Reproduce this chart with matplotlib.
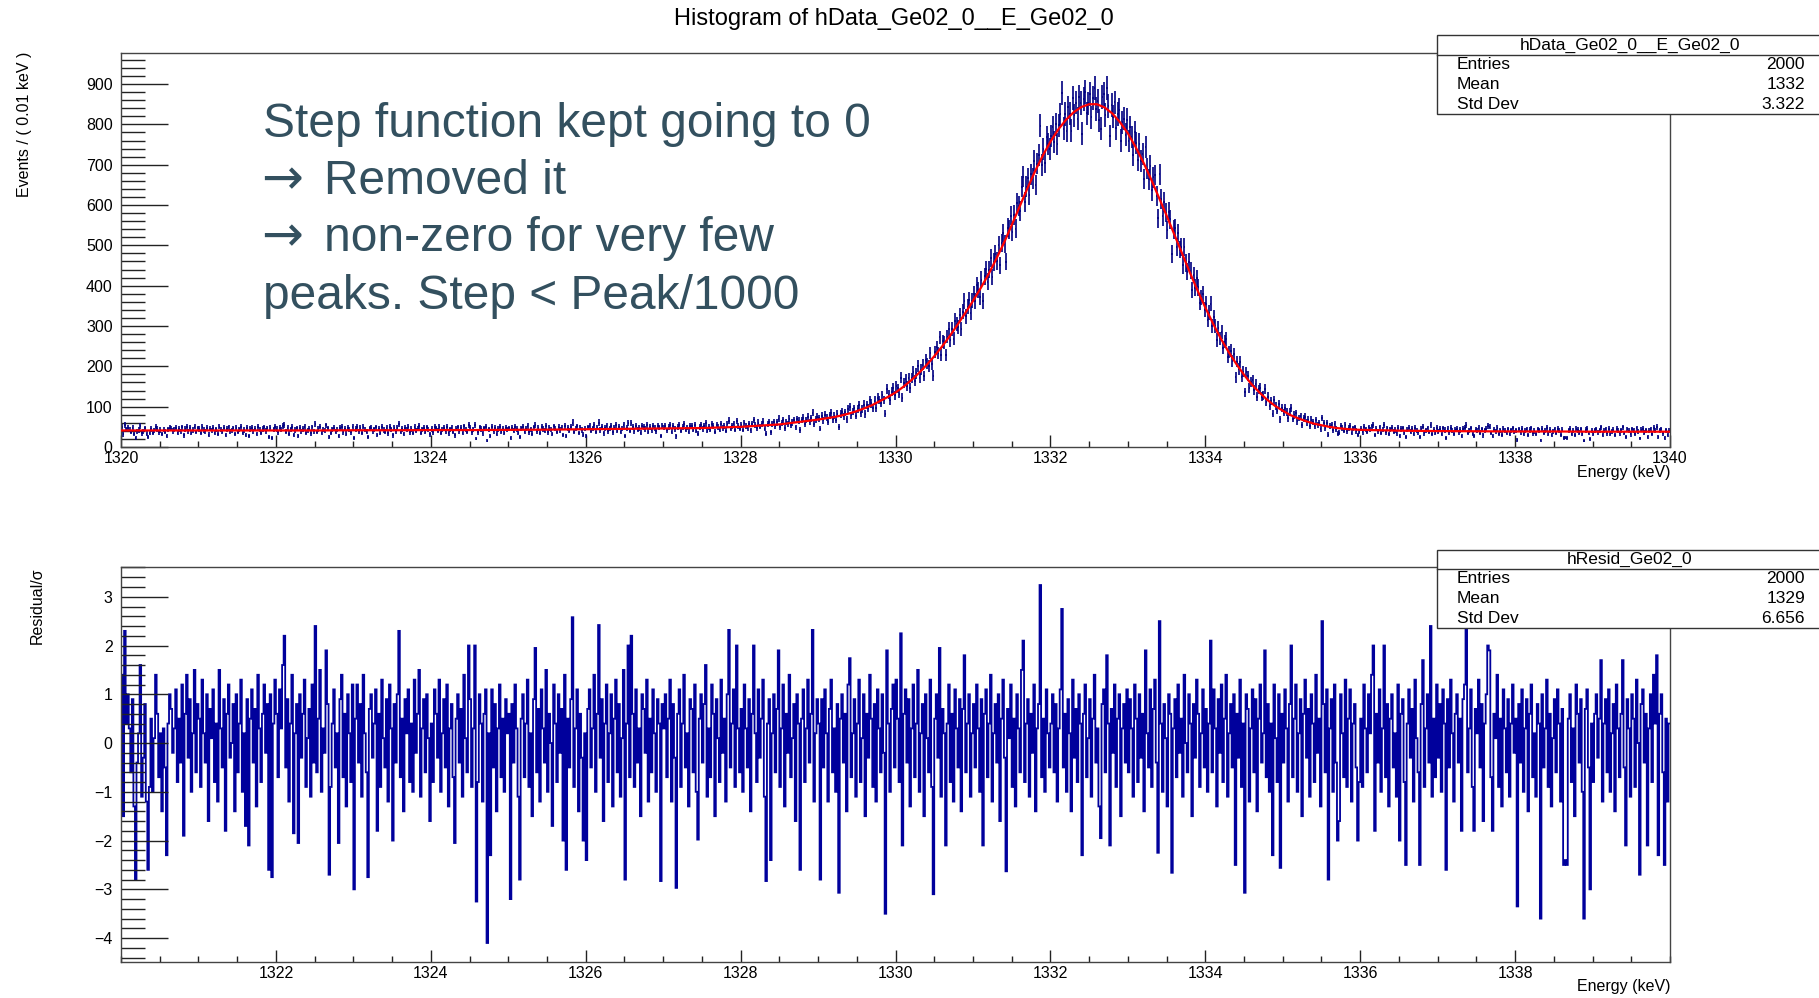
import numpy as np
import matplotlib
matplotlib.use("Agg")
import matplotlib.pyplot as plt
from matplotlib.patches import Rectangle
from matplotlib.lines import Line2D
from matplotlib.ticker import MultipleLocator, FixedLocator

plt.rcParams["font.family"] = ["Liberation Sans", "DejaVu Sans"]

W, H = 1819, 998

# red fit curve (events / 0.01 keV)
fit_x_tail_lo = np.arange(1320.0, 1328.51, 0.5)
fit_y_tail_lo = [41, 41, 41, 41, 41, 41, 41.5, 41.5, 42, 42, 42.5, 43, 44, 45, 46, 47, 50, 56]
fit_x_peak = np.round(np.arange(1329.0, 1336.01, 0.1), 1)
fit_y_peak = [
    68, 71, 74, 78, 83, 89, 96, 104, 114, 124,            # 1329.x
    135, 149, 165, 183, 203, 225, 249, 275, 303, 332,     # 1330.x
    362, 394, 428, 466, 506, 550, 595, 640, 683, 722,     # 1331.x
    757, 787, 811, 830, 843, 850, 850, 842, 827, 805,     # 1332.x
    778, 744, 706, 664, 619, 574, 527, 480, 433, 388,     # 1333.x
    346, 306, 269, 236, 206, 179, 155, 135, 117, 102,     # 1334.x
    90, 79, 71, 64, 58, 54, 50, 47, 45, 43.5,             # 1335.x
    42.5,                                                 # 1336.0
]
fit_x_tail_hi = np.arange(1336.5, 1340.01, 0.5)
fit_y_tail_hi = [40.5, 39.5, 39, 38.5, 38.5, 38, 38, 38]

pull_rows = [
    [1.4, -1.5, 2.3, 0.4, 1.0, 0.3, -0.6, 0.9, -1.3, -2.8,
     -0.4, 0.2, 1.6, -1.1, -0.3, 0.8, -1.2, -2.6, -0.9, 0.5,
     -1.0, 0.1, 1.4, 0.6, -0.7, 0.2, -1.4, 0.3, -0.5, -2.3,
     0.4, 1.0, 0.7, -0.2, 0.3, 1.1, -0.8, 0.5, -0.4, 1.2,
     -1.9, 0.6, 1.4, -0.3, 0.9, -1.0, 0.2, 1.5, -0.6, 0.8],
    [0.5, -0.9, 1.3, 0.2, -0.4, 1.0, -1.6, 0.7, 0.1, 1.1,
     -0.8, 0.4, -1.2, 1.5, 0.3, -0.5, 0.9, -1.8, 0.6, 1.2,
     -0.3, 0.0, 0.8, -1.4, 1.0, -0.6, 0.4, 1.3, -1.0, 0.2,
     -1.7, 0.9, -2.1, 0.5, 1.1, -0.4, 0.7, -1.3, 1.4, 0.3,
     -0.8, 0.6, 1.2, -0.2, 0.8, -2.6, 1.0, -2.75, 0.4, 1.3],
    [0.6, -0.7, 1.1, 0.3, 1.6, 2.2, -0.5, 0.9, -1.2, 0.4,
     1.4, -1.85, 0.2, 0.8, -2.05, 1.0, -0.3, 0.6, 1.3, -0.9,
     0.1, 0.7, -1.1, 1.2, -0.4, 2.4, -0.6, 0.5, 1.5, -1.0,
     0.3, -0.2, 1.9, 0.8, -2.7, -0.9, 0.4, 1.1, -0.5, 0.2,
     -2.05, 0.9, 1.4, -0.7, 0.6, -1.3, 1.0, 0.2, -0.8, 1.2],
    [-3.0, 0.5, 1.2, -0.4, 0.8, -1.1, 1.4, 0.2, -0.6, -2.75,
     0.7, 1.0, -0.3, 0.4, 1.1, -1.8, 0.6, -0.9, 1.3, 0.1,
     -0.5, 0.9, -1.2, 1.2, 0.3, -2.0, 0.8, -0.4, 1.0, 2.3,
     -0.7, 0.5, -1.4, 0.9, 0.2, 1.1, -0.8, 0.4, -1.0, 1.3,
     -0.2, 0.6, 1.5, -1.1, 0.3, 0.9, -0.6, 1.0, 0.1, -1.6],
    [0.4, -0.8, 1.1, 0.6, -0.3, 1.3, -1.0, 0.2, 0.9, -0.5,
     1.2, -1.3, 0.3, 0.8, -0.7, -2.05, 0.5, 1.0, -0.4, 0.7,
     -1.1, 1.4, 0.1, -0.6, 2.0, 0.9, -0.9, 0.3, 2.0, -3.25,
     -0.8, 1.0, 0.4, -1.2, 0.6, 1.1, -4.1, 0.2, -2.3, 1.1,
     -0.5, 0.8, -1.4, 0.3, 1.2, -0.7, 0.5, -1.0, 0.9, 0.2],
    [0.6, -3.2, 0.8, -0.4, 1.2, 0.3, -1.1, -2.8, 0.5, 1.0,
     -0.7, 0.4, 1.3, -0.9, 0.2, -1.5, 0.9, 1.95, -0.6, 0.7,
     -1.2, 1.1, 0.3, -0.4, 1.5, -1.0, 0.6, 0.0, -1.7, 1.2,
     0.4, -0.8, 1.0, -0.2, 0.7, -2.0, 1.4, -2.6, 0.5, -0.5,
     0.9, 2.58, -0.9, 0.3, 1.1, -1.4, 0.6, -0.3, -2.0, 0.2],
    [-2.4, 0.7, 1.1, -0.5, 0.3, 1.4, -1.0, 0.6, 2.42, -0.3,
     0.9, -1.6, 0.4, 1.2, -0.8, 0.2, 1.0, -1.3, 0.5, 1.3,
     -0.6, 0.8, -1.1, 0.1, 1.5, -2.8, 0.4, 2.0, -0.7, 2.2,
     0.6, -0.9, 1.1, -0.4, 0.3, -1.5, 1.0, 0.7, -0.2, 1.3,
     -1.2, 0.5, -0.6, 1.1, 0.2, -1.0, 0.9, 0.4, -2.83, 0.8],
    [0.3, 1.0, -0.7, 0.5, 1.3, -1.2, 0.8, -0.3, -2.97, 0.6,
     1.1, -0.9, 0.4, 1.4, -0.5, 0.2, -1.3, 0.9, 0.7, -0.6,
     1.2, -1.0, -1.98, 0.5, 1.0, -0.4, 0.8, 1.6, -1.1, 0.3,
     -0.7, 1.2, 0.6, -1.5, 0.9, 0.1, -0.8, 1.3, -0.2, 0.5,
     -1.2, 1.0, 2.32, -0.5, 0.4, 1.1, -0.9, 2.0, 0.3, -0.6],
    [0.7, -1.0, 1.2, 0.3, -0.5, 0.9, -1.4, 0.6, 2.0, 0.2,
     -0.8, 1.1, -0.3, 0.5, 1.3, -1.1, -2.83, 0.4, 0.9, -2.4,
     0.2, 1.0, -0.6, 0.7, 1.9, -0.9, 0.3, 1.2, -1.3, 0.6,
     -0.2, 1.4, -0.7, 0.1, 0.8, -1.6, 1.0, 0.4, -2.6, 0.5,
     1.1, -0.8, 0.3, 1.3, -0.4, 0.6, 2.32, -1.2, 0.2, 0.9],
    [0.4, -2.8, 0.9, -0.5, 1.1, 0.2, -1.2, 0.7, 1.3, -0.6,
     0.3, -1.0, 0.8, -3.07, 0.5, 1.0, -0.4, 0.6, -1.4, 1.2,
     1.74, -0.7, 0.2, 0.9, -1.1, 0.4, 1.3, -0.8, 0.1, 1.0,
     -1.5, 0.6, -0.3, 1.4, 0.5, -0.9, 0.8, -1.2, 1.1, 0.3,
     -0.6, 1.0, -0.2, -3.5, 1.9, 0.4, -1.0, 0.7, 1.2, -0.5],
    [1.3, 0.5, -0.8, 2.25, -2.1, 0.6, 1.1, -0.4, 0.9, -1.3,
     0.3, 1.2, -0.7, 0.4, 1.5, -1.0, 0.2, 0.8, -1.5, 1.0,
     0.1, -0.6, 1.3, -0.9, -3.1, 0.5, 1.0, -0.3, 1.95, -1.1,
     0.7, 0.2, -2.1, 0.4, 1.2, -0.8, 0.6, -1.2, 1.1, 0.3,
     -0.5, 0.9, -1.4, 0.7, 1.8, -0.6, 0.4, 1.0, -1.1, 0.2],
    [0.8, -0.5, 1.2, 0.3, -1.0, 0.9, -2.1, 0.6, 1.1, -0.7,
     0.4, 1.4, -1.2, 0.2, 0.8, -0.4, 1.0, -1.6, 0.5, 1.3,
     -0.3, -2.63, 0.7, 0.1, 1.2, -0.9, 0.5, -1.3, 1.0, 0.3,
     -0.6, 1.5, 2.1, -0.8, 0.4, 0.9, -1.1, 0.6, -0.2, 1.2,
     -1.4, 0.3, 0.8, 3.24, -0.7, 0.5, -1.0, 1.1, 0.2, -0.5],
    [0.4, 1.0, -0.6, 0.8, -1.2, 0.3, 1.1, 2.75, -0.5, 0.6,
     -1.0, 0.9, 0.2, -1.4, 1.3, -0.3, 0.7, -0.8, 1.0, 0.4,
     -2.3, 0.6, 1.2, -0.7, 0.1, 0.9, -1.1, 0.5, 1.4, -0.4,
     0.3, -1.3, -1.95, 0.8, 1.1, -0.6, 1.8, 0.4, -2.1, 0.7,
     -0.2, 1.2, -0.9, 0.5, 1.0, -1.5, 0.3, 0.8, -0.4, 1.1],
    [-0.6, 0.9, 0.3, -1.1, 1.2, 0.5, -0.8, 1.0, -0.3, 0.6,
     -1.4, 1.9, 0.2, -0.5, 1.1, -0.9, 0.7, 1.3, -0.4, -2.25,
     2.5, 0.4, -1.0, 0.8, 0.1, -1.3, 1.0, 0.6, -2.66, 0.3,
     0.9, -0.7, 1.2, -0.2, 0.5, -1.1, 1.4, 0.0, -0.6, 1.0,
     0.4, -1.5, 0.8, -0.3, 1.3, 0.6, -0.9, 0.2, 1.1, -0.5],
    [0.7, -1.0, 0.4, 2.1, -0.6, 1.1, 0.3, -1.3, 0.9, -0.2,
     1.2, -0.8, 0.5, 1.4, -1.1, 0.2, 0.8, -0.5, 1.0, -2.5,
     0.6, -0.3, 1.3, -0.9, 0.4, -3.07, 1.0, 0.7, -1.2, 0.3,
     1.1, -0.6, 0.9, -1.4, 0.5, 1.2, -0.4, 0.2, 1.9, -0.7,
     0.8, -1.0, 0.4, -2.3, 1.2, 0.1, -0.8, 1.0, -2.56, 0.6],
    [-0.4, 1.1, 0.3, -1.2, 0.8, 2.0, -0.7, 0.5, 1.2, -1.0,
     0.2, 0.9, -1.5, 0.6, 1.3, -0.3, 0.7, -1.1, 1.0, 0.4,
     -0.8, 1.4, -0.2, 0.5, -1.3, 2.5, 0.8, -0.6, 1.1, -2.8,
     0.3, 0.9, -1.0, 1.2, -0.4, -2.0, -1.6, 1.0, 0.2, -0.7,
     1.3, -0.9, 0.5, 1.1, -1.2, 0.4, 0.8, -0.5, -2.0, -0.8],
    [0.5, -0.9, 1.2, 0.3, -0.6, 1.0, 0.2, 1.4, 2.0, -1.8,
     0.6, -0.4, 1.1, -1.0, 0.3, 2.0, -0.7, 0.8, -1.3, 0.5,
     1.0, -0.5, 0.2, -1.1, 1.2, -2.0, 0.6, 0.9, -0.8, -2.5,
     0.4, 1.1, -0.3, 0.7, -1.2, 1.3, 0.1, -0.6, -2.5, 0.8,
     1.7, -0.9, 0.3, 1.0, -0.4, 2.4, -1.1, 0.5, -0.7, 1.2],
    [-0.3, 0.8, -1.0, 1.1, 0.4, -2.6, 0.9, -0.5, 1.3, 0.2,
     -1.2, 0.6, 1.0, -0.4, 0.5, -1.8, 0.9, 1.2, 2.5, -0.6,
     0.3, 1.1, -0.9, -1.8, 0.7, 0.2, 1.3, -0.5, 0.8, -1.6,
     0.4, 1.0, 2.0, 1.9, -0.7, -1.8, 0.6, 0.1, 1.4, -0.9,
     0.5, -1.3, 1.1, 0.3, -0.6, 0.9, -1.1, 0.4, 1.2, -0.2],
    [0.5, -3.35, 0.8, -0.4, 1.1, -1.0, 0.3, 0.9, -1.4, 0.6,
     1.2, -0.7, 0.2, -1.1, 0.8, 0.4, -3.6, 1.0, -0.5, 0.3,
     1.3, -0.9, 0.6, -1.3, 0.1, 0.9, -0.6, 1.1, 0.4, -1.2,
     0.7, -2.5, -2.4, -2.5, 0.5, 1.0, -0.8, 0.3, -1.5, 1.2,
     0.6, -0.4, 0.9, -1.0, -3.6, 0.7, 1.1, -0.5, -3.0, 0.4],
    [-0.8, 0.6, 1.0, -0.3, 0.5, 1.7, -1.2, 0.4, 0.9, -0.6,
     1.1, -1.0, 0.2, 0.8, -1.4, 1.2, 0.3, -0.7, 0.6, 1.7,
     -0.5, -2.1, 0.9, 0.3, -1.1, 1.0, 0.5, -0.9, 1.3, 0.0,
     -2.7, 0.8, 1.1, -0.4, 0.6, -2.1, 0.3, 1.0, -0.8, 1.4,
     0.4, 1.8, -2.3, 0.6, 1.0, -0.6, -2.5, 0.5, -1.2, 0.4],
]
E_FIRST = 1320.0

stats_data = [("Entries", "2000"), ("Mean", "1332"), ("Std Dev", "3.322")]
stats_resid = [("Entries", "2000"), ("Mean", "1329"), ("Std Dev", "6.656")]

note_lines = [
    (None, "Step function kept going to 0"),
    ("\u2192", "Removed it"),
    ("\u2192", "non-zero for very few"),
    (None, "peaks. Step < Peak/1000"),
]

DATA_COL = "#000080"
RES_COL = "#00009c"
NOTE_COL = "#33505f"

fit_x = np.concatenate([fit_x_tail_lo, fit_x_peak, fit_x_tail_hi])
fit_y = np.array(fit_y_tail_lo + fit_y_peak + fit_y_tail_hi, dtype=float)

# each row spans exactly one keV
pulls = np.concatenate([np.array(r, dtype=float) for r in pull_rows])
edges = [np.array([E_FIRST])]
for k, r in enumerate(pull_rows):
    edges.append(np.linspace(E_FIRST + k, E_FIRST + k + 1, len(r) + 1)[1:])
edges = np.concatenate(edges)
centers = 0.5 * (edges[:-1] + edges[1:])
half_w = 0.5 * np.diff(edges)
fit_at_bins = np.interp(centers, fit_x, fit_y)
data = fit_at_bins + pulls * np.sqrt(fit_at_bins)


def fx(px):
    return px / W


def fy(py):
    return 1 - py / H


def style_axis(ax, ymaj, ymin):
    ax.xaxis.set_major_locator(MultipleLocator(2))
    ax.xaxis.set_minor_locator(MultipleLocator(0.5))
    ax.yaxis.set_major_locator(MultipleLocator(ymaj))
    ax.yaxis.set_minor_locator(MultipleLocator(ymin))
    ax.tick_params(direction="in", which="both", width=1.0, color="#222222",
                   labelsize=11.5, top=False, right=False)
    ax.tick_params(axis="y", which="major", length=34, pad=6)
    ax.tick_params(axis="y", which="minor", length=17)
    ax.tick_params(axis="x", which="major", length=8.6, pad=3)
    ax.tick_params(axis="x", which="minor", length=4.3)
    for s in ax.spines.values():
        s.set_color("#444444")
        s.set_linewidth(1.0)


def stats_box(fig, top, sep, bot, name, rows):
    left = fx(1437)
    rect = Rectangle((left, fy(bot)), 0.25, fy(top) - fy(bot), transform=fig.transFigure,
                     facecolor="white", edgecolor="#333333", lw=1.0, zorder=10)
    fig.add_artist(rect)
    fig.add_artist(Line2D([left, 1.0], [fy(sep), fy(sep)], transform=fig.transFigure,
                          color="#333333", lw=1.0, zorder=11))
    fig.text(fx(1630), fy((top + sep) / 2), name, ha="center", va="center",
             fontsize=12.5, zorder=12)
    step = (bot - sep) / len(rows)
    for i, (k, v) in enumerate(rows):
        yy = fy(sep + step * (i + 0.5))
        fig.text(fx(1457), yy, k, ha="left", va="center", fontsize=12.5, zorder=12)
        fig.text(fx(1805), yy, v, ha="right", va="center", fontsize=12.5, zorder=12)


fig = plt.figure(figsize=(W / 100, H / 100), dpi=100)

# top: data + fit
ax1 = fig.add_axes([fx(121), fy(447), fx(1670) - fx(121), fy(53) - fy(447)])
ax1.errorbar(centers, data, xerr=half_w, yerr=np.sqrt(data), fmt="none",
             ecolor=DATA_COL, elinewidth=1.2, capsize=0)
ax1.plot(fit_x, fit_y, color="red", lw=1.6, zorder=5)
ax1.set_xlim(1320, 1340)
ax1.set_ylim(0, 977)
style_axis(ax1, 100, 20)

# bottom: residuals
ax2 = fig.add_axes([fx(121), fy(962), fx(1670) - fx(121), fy(567) - fy(962)])
ax2.stairs(pulls, edges, color=RES_COL, lw=1.3, baseline=None)
ax2.set_xlim(1320, 1340)
ax2.set_ylim(-4.49, 3.61)
style_axis(ax2, 1, 0.2)
ax2.xaxis.set_major_locator(FixedLocator(np.arange(1322, 1339, 2)))

fig.text(fx(894), fy(19), "Histogram of hData_Ge02_0__E_Ge02_0", ha="center", va="center",
         fontsize=17)
fig.text(fx(25), fy(52), "Events / ( 0.01 keV )", rotation=90, ha="center", va="top",
         fontsize=11.5)
fig.text(fx(37), fy(567), "Residual/\u03c3", rotation=90, ha="center", va="top",
         fontsize=11.5)
fig.text(fx(1670), fy(473), "Energy (keV)", ha="right", va="center", fontsize=11.5)
fig.text(fx(1670), fy(987), "Energy (keV)", ha="right", va="center", fontsize=11.5)

stats_box(fig, 35, 55, 114, "hData_Ge02_0__E_Ge02_0", stats_data)
stats_box(fig, 550, 569, 628, "hResid_Ge02_0", stats_resid)

for (arrow, line), base in zip(note_lines, [137, 194.2, 251.4, 308.6]):
    if arrow is None:
        fig.text(fx(263), fy(base), line, ha="left", va="baseline", fontsize=34.5,
                 color=NOTE_COL, zorder=12)
    else:
        fig.text(fx(261), fy(base), arrow, ha="left", va="baseline", fontsize=36,
                 color=NOTE_COL, family="DejaVu Sans", zorder=12)
        fig.text(fx(324), fy(base), line, ha="left", va="baseline", fontsize=34.5,
                 color=NOTE_COL, zorder=12)

fig.savefig("out.png", dpi=100)
